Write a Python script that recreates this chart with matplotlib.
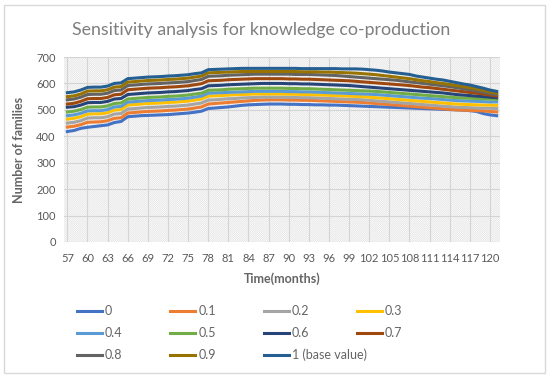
import numpy as np
import matplotlib.pyplot as plt
from matplotlib.patches import Rectangle
from matplotlib.lines import Line2D

plt.rcParams['font.family'] = ['Lato', 'DejaVu Sans']
plt.rcParams['hatch.linewidth'] = 0.5
plt.rcParams['hatch.color'] = '#e0e0e0'

months = list(range(57, 122))

s0 = [418, 422, 430, 434, 437, 440, 443, 452, 456, 474,
      476, 478, 479, 480, 481, 482, 484, 486, 488, 491,
      495, 505, 507, 509, 511, 514, 517, 519, 520, 521,
      522, 522, 522, 521, 521, 520, 520, 519, 519, 518,
      518, 517, 516, 515, 514, 513, 512, 511, 510, 509,
      508, 507, 506, 505, 504, 503, 502, 501, 500, 499,
      497, 494, 486, 481, 478]
s01 = [435, 438, 444, 453, 454, 455, 459, 468, 470, 488,
       490, 492, 494, 495, 496, 498, 499, 501, 503, 507,
       511, 522, 524, 526, 528, 530, 532, 534, 536, 537,
       538, 538, 538, 537, 537, 536, 536, 535, 534, 533,
       532, 531, 530, 529, 528, 526, 524, 522, 520, 518,
       516, 514, 512, 510, 508, 506, 504, 502, 500, 499,
       498, 497, 496, 494, 492]
s02 = [450, 453, 459, 469, 470, 470, 474, 484, 486, 503,
       505, 507, 509, 510, 511, 513, 514, 516, 518, 522,
       526, 537, 538, 540, 542, 543, 545, 546, 547, 548,
       548, 548, 548, 547, 547, 546, 546, 545, 544, 543,
       542, 541, 540, 539, 538, 536, 534, 532, 530, 528,
       526, 524, 522, 520, 518, 516, 514, 512, 510, 509,
       508, 507, 506, 506, 505]
s03 = [465, 468, 474, 484, 485, 485, 489, 499, 501, 518,
       520, 522, 524, 525, 526, 528, 529, 531, 533, 537,
       541, 552, 553, 554, 556, 557, 558, 559, 560, 560,
       560, 560, 560, 559, 559, 558, 558, 557, 556, 555,
       554, 553, 552, 551, 550, 548, 546, 544, 542, 540,
       538, 536, 534, 532, 530, 528, 526, 524, 522, 521,
       520, 519, 518, 518, 517]
s04 = [478, 481, 487, 496, 497, 497, 501, 511, 513, 529,
       531, 533, 535, 536, 537, 539, 540, 542, 544, 548,
       552, 563, 564, 565, 566, 567, 568, 569, 570, 570,
       570, 570, 570, 569, 569, 568, 568, 567, 566, 565,
       564, 563, 562, 561, 560, 559, 558, 556, 554, 552,
       550, 548, 546, 544, 543, 541, 539, 537, 535, 534,
       533, 532, 531, 530, 530]
s05 = [492, 495, 501, 510, 511, 511, 515, 524, 526, 541,
       543, 545, 547, 548, 549, 551, 552, 554, 556, 560,
       563, 574, 575, 576, 578, 579, 580, 581, 582, 582,
       582, 582, 582, 581, 581, 580, 580, 579, 578, 577,
       576, 575, 574, 573, 572, 571, 570, 568, 566, 564,
       562, 560, 558, 556, 554, 552, 550, 548, 546, 545,
       544, 543, 542, 541, 540]
s06 = [510, 512, 518, 527, 528, 528, 532, 541, 543, 558,
       560, 562, 564, 565, 566, 568, 569, 571, 573, 577,
       580, 591, 592, 593, 595, 596, 597, 598, 599, 600,
       600, 600, 600, 599, 599, 598, 598, 597, 596, 595,
       594, 593, 592, 590, 588, 586, 584, 582, 580, 578,
       576, 574, 572, 570, 568, 566, 564, 561, 558, 556,
       554, 552, 550, 548, 546]
s07 = [522, 525, 532, 542, 543, 543, 547, 557, 559, 576,
       578, 580, 582, 583, 584, 586, 587, 589, 591, 595,
       599, 610, 611, 612, 614, 615, 616, 617, 618, 618,
       618, 618, 618, 617, 617, 616, 616, 615, 614, 613,
       612, 611, 610, 608, 606, 604, 602, 600, 598, 596,
       594, 592, 589, 586, 584, 581, 578, 575, 572, 569,
       566, 563, 560, 556, 552]
s08 = [538, 541, 548, 558, 559, 559, 563, 573, 575, 592,
       594, 596, 598, 599, 600, 602, 603, 605, 607, 611,
       615, 627, 628, 629, 631, 632, 633, 634, 635, 635,
       635, 635, 635, 635, 634, 634, 634, 633, 632, 631,
       630, 628, 626, 624, 622, 620, 618, 616, 614, 612,
       609, 606, 603, 600, 597, 594, 591, 588, 584, 580,
       576, 572, 567, 562, 557]
s09 = [550, 553, 560, 571, 572, 572, 576, 586, 588, 605,
       607, 609, 611, 612, 613, 615, 616, 618, 620, 624,
       628, 640, 641, 642, 643, 644, 645, 645, 645, 645,
       645, 645, 645, 645, 645, 644, 644, 644, 643, 643,
       642, 641, 640, 639, 637, 635, 633, 630, 627, 624,
       621, 618, 614, 610, 607, 603, 600, 596, 592, 588,
       584, 579, 574, 568, 563]
s10 = [565, 568, 575, 585, 586, 586, 590, 600, 602, 618,
       620, 622, 624, 625, 626, 628, 629, 631, 633, 637,
       640, 652, 653, 654, 655, 656, 657, 657, 657, 657,
       657, 657, 657, 657, 657, 656, 656, 656, 656, 656,
       656, 655, 655, 655, 654, 652, 650, 647, 643, 640,
       637, 634, 628, 624, 620, 616, 613, 608, 603, 598,
       594, 588, 582, 575, 570]

series = [s0, s01, s02, s03, s04, s05, s06, s07, s08, s09, s10]
labels = ['0', '0.1', '0.2', '0.3', '0.4', '0.5', '0.6', '0.7', '0.8', '0.9',
          '1 (base value)']
colors = ['#4472C4', '#ED7D31', '#A5A5A5', '#FFC000', '#5B9BD5', '#70AD47',
          '#264478', '#9E480E', '#636363', '#997300', '#255E91']

fig = plt.figure(figsize=(5.5, 3.79), dpi=100)
ax = fig.add_axes([64/550, 137/379, 436/550, 185/379])

# fond hachuré
ax.add_patch(Rectangle((0, 0), 1, 1, transform=ax.transAxes, facecolor='white',
                       hatch='\\' * 16, edgecolor='#e0e0e0', lw=0, zorder=0))

for y, lab, c in zip(series, labels, colors):
    ax.plot(months, y, color=c, lw=2.2, label=lab, zorder=3)

ax.set_xlim(56.5, 121.5)
ax.set_ylim(0, 700)
ax.set_yticks(range(0, 701, 100))
ax.set_xticks(range(57, 121, 3))
ax.grid(True, color='#d4d4d4', lw=0.8, zorder=1)
ax.set_axisbelow(True)
for sp in ax.spines.values():
    sp.set_visible(False)
ax.tick_params(length=0, labelsize=8, colors='#595959')
ax.tick_params(axis='x', pad=8)
ax.tick_params(axis='y', pad=6)

ax.set_xlabel('Time(months)', fontsize=9, fontweight='bold', color='#656565', labelpad=6)
ax.set_ylabel('Number of families', fontsize=9, fontweight='bold', color='#656565', labelpad=8)

fig.text(261/550, 1 - 30/379, 'Sensitivity analysis for knowledge co-production',
         ha='center', va='center', fontsize=12.8, color='#7f7f7f')

# légende à la main (ordre ligne par ligne comme dans excel)
for i, (lab, c) in enumerate(zip(labels, colors)):
    row, col = divmod(i, 4)
    x0 = 77 + col * 93.3
    yy = 1 - (311 + row * 22) / 379
    fig.add_artist(Line2D([x0/550, (x0+25)/550], [yy, yy], color=c, lw=2.2))
    fig.text((x0+28)/550, yy, lab, ha='left', va='center', fontsize=9, color='#656565')

# cadre du graphique
fig.add_artist(Rectangle((4/550, 6/379), 541/550, 368/379, transform=fig.transFigure,
                         fill=False, edgecolor='#d9d9d9', lw=1))

fig.savefig('out.png', dpi=100)
